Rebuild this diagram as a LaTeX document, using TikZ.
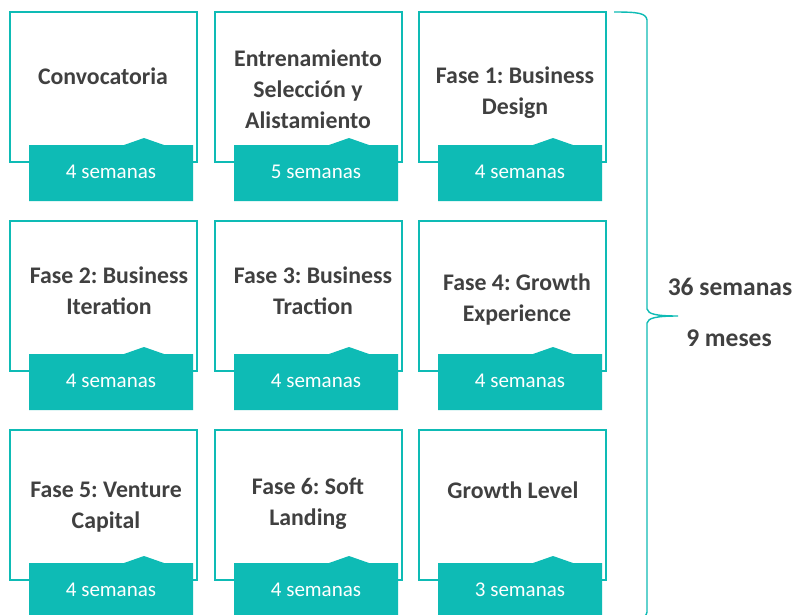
\documentclass[tikz,border=0pt]{standalone}
\usepackage{fontspec}
\setmainfont{Carlito}
\frenchspacing
\definecolor{teal1}{RGB}{14,187,181}
\definecolor{txt}{RGB}{64,64,64}
\begin{document}
\begin{tikzpicture}[x=1pt,y=-1pt,
 outline/.style={draw=teal1,line width=2pt},
 title/.style={font=\fontsize{23.8}{31}\selectfont\bfseries,text=txt,align=center,inner sep=0pt},
 weeks/.style={font=\fontsize{21}{24}\selectfont,text=white,inner sep=0pt},
 total/.style={font=\fontsize{25.5}{28}\selectfont\bfseries,text=txt,inner sep=0pt},
 bracestyle/.style={draw=teal1,line width=1.4pt}]
\useasboundingbox[fill=white] (0,0) rectangle (796,614);
\newcommand\phasebox[4]{%
 \draw[outline] (#1,#2) rectangle ({#1+187},{#2+150});
 \fill[teal1] ({#1+19},{#2+133}) -- ({#1+114},{#2+133}) -- ({#1+134},{#2+126}) -- ({#1+154},{#2+133}) -- ({#1+183},{#2+133}) -- ({#1+183},{#2+189}) -- ({#1+19},{#2+189}) -- cycle;
 \node[weeks] (#3) at ({#1+101},{#2+160}) {#4};}
\phasebox{10}{12}{w1}{4 semanas}
\phasebox{215}{12}{w2}{5 semanas}
\phasebox{419}{12}{w3}{4 semanas}
\phasebox{10}{221}{w4}{4 semanas}
\phasebox{215}{221}{w5}{4 semanas}
\phasebox{419}{221}{w6}{4 semanas}
\phasebox{10}{430}{w7}{4 semanas}
\phasebox{215}{430}{w8}{4 semanas}
\phasebox{419}{430}{w9}{3 semanas}
\node[title] (t1) at (103,76) {Convocatoria};
\node[title] (t2) at (308,89) {Entrenamiento\\Selección y\\Alistamiento};
\node[title] (t3) at (515,93) {Fase 1: Business\\Design};
\node[title] (t4) at (109,291) {Fase 2: Business\\Iteration};
\node[title] (t5) at (313,291) {Fase 3: Business\\Traction};
\node[title] (t6) at (517,300) {Fase 4: Growth\\Experience};
\node[title] (t7) at (106,507) {Fase 5: Venture\\Capital};
\node[title] (t8) at (308,504) {Fase 6: Soft\\Landing};
\node[title] (t9) at (513,490) {Growth Level};
\draw[bracestyle] (614,12) .. controls (638,12) and (646,13) .. (647,20) -- (647,309)
  .. controls (648,314) and (656,316) .. (678,316)
  .. controls (656,316) and (648,318) .. (647,323) -- (647,612)
  .. controls (646,619) and (638,620) .. (614,620);
\node[total] (tot) at (730,287) {36 semanas};
\node[total] (mes) at (729,338) {9 meses};
\end{tikzpicture}
\end{document}
